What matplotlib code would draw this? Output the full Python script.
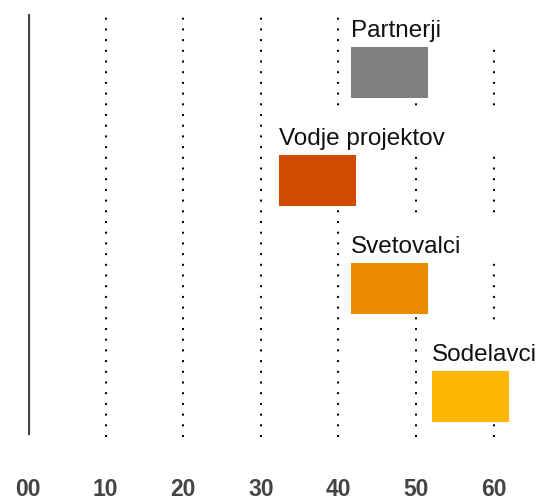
import matplotlib
matplotlib.use("Agg")
import matplotlib.pyplot as plt
from matplotlib.patches import Rectangle

# podatki
skupine = ["Partnerji", "Vodje projektov", "Svetovalci", "Sodelavci"]
zacetek = [41.6, 32.4, 41.6, 52.1]
trajanje = [9.9, 9.9, 9.9, 9.9]
barve = ["#808080", "#D04A02", "#EB8C00", "#FFB600"]
oznake_x = [0, 10, 20, 30, 40, 50, 60]
besedila_x = ["00", "10", "20", "30", "40", "50", "60"]

plt.rcParams["font.family"] = ["Liberation Sans", "DejaVu Sans"]

fig = plt.figure(figsize=(5.5, 5.02), dpi=100)
ax = fig.add_axes([28 / 550, 64 / 502, 66 * 7.76 / 550, 423 / 502])

y = list(range(len(skupine)))
visina = 0.472

# mreža s pikami
for x in oznake_x[1:]:
    ax.axvline(x, color="black", lw=1.44, linestyle=(0, (1, 4.35)),
               dash_capstyle="butt", zorder=1)
# polna črta pri 0
ax.axvline(0, ymin=4 / 423, ymax=1 - 2 / 423, color="#444444", lw=3.0, zorder=2)

ax.barh(y, trajanje, left=zacetek, height=visina, color=barve, zorder=3)

for yi, s, ime in zip(y, zacetek, skupine):
    vrh = yi - visina / 2
    # belo ozadje napisa prekrije mrežo
    ax.add_patch(Rectangle((s, vrh - 0.42), 66 - s, 0.42, facecolor="white",
                           edgecolor="none", zorder=2))
    ax.text(s, vrh - 0.1, ime, fontsize=17.5, color="#111111",
            ha="left", va="baseline", zorder=4)

ax.set_xlim(0, 66)
ax.set_ylim(3.373, -0.544)
ax.set_xticks(oznake_x)
ax.set_xticklabels(besedila_x, fontsize=16.5, fontweight="bold", color="#444444")
ax.tick_params(axis="x", length=0, pad=29)
ax.set_yticks([])
for sp in ax.spines.values():
    sp.set_visible(False)

fig.savefig("out.png", dpi=100)
